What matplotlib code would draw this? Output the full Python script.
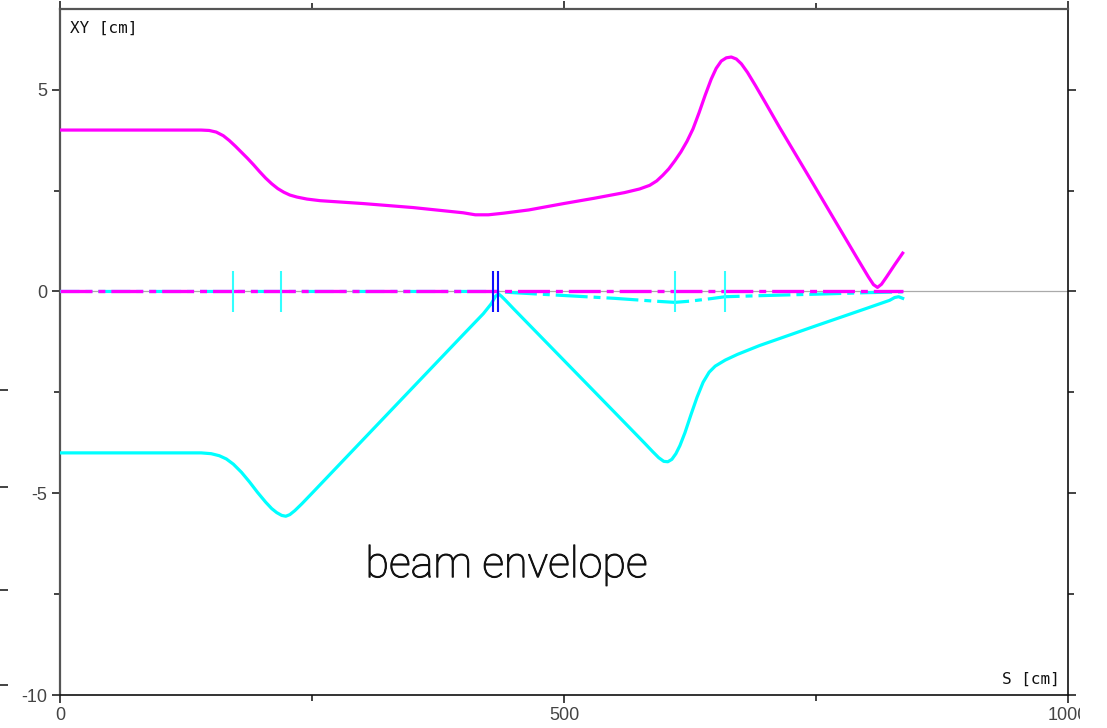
import numpy as np
import matplotlib.pyplot as plt
import matplotlib.patheffects as pe
from matplotlib.ticker import MultipleLocator
from matplotlib.transforms import Bbox, TransformedBbox

plt.rcParams['axes.unicode_minus'] = False
plt.rcParams['lines.scale_dashes'] = False

# upper (X) envelope, s [cm] vs size [cm]
s_x = [0, 140, 148, 155, 162, 168, 174, 180, 186, 192, 198, 204, 210, 216, 222,
       228, 235, 245, 258, 300, 350, 400, 412, 425, 440, 465, 500, 530, 560, 575,
       585, 592, 598, 604, 610, 616, 622, 628, 634, 640, 646, 651, 656, 661, 666,
       671, 676, 682, 690, 700, 714, 750, 790, 802, 807, 811, 815, 820, 828, 836]
env_x = [4.0, 4.0, 3.99, 3.95, 3.86, 3.74, 3.60, 3.45, 3.30, 3.14, 2.97, 2.81,
         2.67, 2.55, 2.46, 2.39, 2.34, 2.29, 2.25, 2.18, 2.08, 1.95, 1.90, 1.90,
         1.94, 2.02, 2.18, 2.31, 2.45, 2.54, 2.63, 2.74, 2.88, 3.04, 3.24, 3.46,
         3.72, 4.03, 4.43, 4.86, 5.26, 5.53, 5.71, 5.79, 5.81, 5.76, 5.64, 5.43,
         5.10, 4.67, 4.06, 2.55, 0.86, 0.36, 0.17, 0.10, 0.18, 0.36, 0.66, 0.95]

# lower (Y) envelope
s_y = [0, 140, 150, 158, 165, 172, 180, 188, 196, 204, 210, 215, 220, 224, 228,
       233, 240, 250, 300, 350, 400, 420, 428, 432, 435, 438, 442, 450, 500, 550,
       580, 588, 594, 599, 603, 607, 611, 615, 620, 626, 632, 638, 644, 650, 660,
       672, 694, 750, 800, 823, 828, 832, 836]
env_y = [-4.0, -4.0, -4.02, -4.07, -4.15, -4.28, -4.48, -4.72, -4.98, -5.22, -5.38,
         -5.48, -5.55, -5.57, -5.53, -5.43, -5.26, -5.00, -3.69, -2.38, -1.07,
         -0.55, -0.30, -0.12, -0.06, -0.12, -0.22, -0.43, -1.71, -2.99, -3.76,
         -3.97, -4.12, -4.21, -4.22, -4.16, -4.02, -3.82, -3.50, -3.05, -2.62,
         -2.25, -2.00, -1.85, -1.70, -1.56, -1.34, -0.85, -0.42, -0.22, -0.15,
         -0.13, -0.17]

# centroid trajectories
s_cx = [0, 836]
cen_x = [0.0, 0.0]
s_cy = [0, 433, 450, 500, 550, 590, 610, 625, 645, 660, 700, 760, 800, 836]
cen_y = [0.0, 0.0, -0.03, -0.10, -0.17, -0.24, -0.27, -0.24, -0.18, -0.13, -0.10,
         -0.06, -0.03, -0.01]

# lattice elements
quads = [172, 219, 610, 660]
kicks = [430, 435]
elem_h = 0.5

fig = plt.figure(figsize=(11.07, 7.28), dpi=100)
ax = fig.add_axes([60/1107, 33/728, 1008/1107, 686/728])

ax.axhline(0, color='#aaaaaa', lw=0.9, zorder=1)

ax.plot(s_y, env_y, color='#00ffff', lw=2.3, zorder=3)
ax.plot(s_x, env_x, color='#ff00ff', lw=2.3, zorder=4)

dash_dot = [23, 4.3, 5, 4.3]
ax.plot(s_cy, cen_y, color='#00ffff', lw=2.3, zorder=3, ls=(9, dash_dot))
ax.plot(s_cx, cen_x, color='#ff00ff', lw=2.4, zorder=4, ls=(0, dash_dot))

ax.vlines(quads, -elem_h, elem_h, color='#33ffff', lw=1.5, zorder=5)
ax.vlines(kicks, -elem_h, elem_h, color='#1010ff', lw=1.5, zorder=5)

ax.set_xlim(0, 1000)
ax.set_ylim(-10, 7)
ax.xaxis.set_major_locator(MultipleLocator(500))
ax.xaxis.set_minor_locator(MultipleLocator(250))
ax.yaxis.set_major_locator(MultipleLocator(5))
ax.yaxis.set_minor_locator(MultipleLocator(2.5))
ax.tick_params(which='both', direction='out', top=True, right=True,
               color='#222222', width=1.2)
ax.tick_params(which='major', length=6)
ax.tick_params(which='minor', length=4)
ax.tick_params(labelsize=13, labelcolor='#444444', pad=3)
for lab in ax.get_xticklabels() + ax.get_yticklabels():
    lab.set_family(['Liberation Sans Narrow', 'Liberation Sans', 'DejaVu Sans'])

for side in ['left', 'top']:
    ax.spines[side].set_color('#555555')
    ax.spines[side].set_linewidth(1.6)
for side in ['right', 'bottom']:
    ax.spines[side].set_color('#111111')
    ax.spines[side].set_linewidth(1.2)

ax.text(0.01, 0.983, 'XY [cm]', transform=ax.transAxes, ha='left', va='top',
        family='DejaVu Sans Mono', fontsize=11.5, color='#111111')
ax.text(0.992, 0.012, 'S [cm]', transform=ax.transAxes, ha='right', va='bottom',
        family='DejaVu Sans Mono', fontsize=11.5, color='#111111')
ax.text(443, -7.08, 'beam envelope', ha='center', va='baseline',
        family='Roboto', fontweight='light', fontsize=31, color='#111111',
        path_effects=[pe.withStroke(linewidth=0.7, foreground='#111111')])

# the rightmost x label runs off the page edge
fig.canvas.draw()
clip = TransformedBbox(Bbox([[0, 0], [1080/1107, 1]]), fig.transFigure)
for lab in ax.get_xticklabels():
    lab.set_clip_on(True)
    lab.set_clip_box(clip)

# stray ticks of an empty axis at the far left edge
stub = fig.add_axes([8/1107, 33/728, 0.0001, 686/728])
stub.set_ylim(-10, 7)
stub.set_yticks([-2.45, -4.85, -7.4, -9.75])
stub.set_yticklabels([])
stub.set_xticks([])
stub.tick_params(axis='y', direction='out', length=6, width=1.2, color='#222222')
for sp in stub.spines.values():
    sp.set_visible(False)
stub.patch.set_visible(False)

fig.savefig('out.png', dpi=100)
